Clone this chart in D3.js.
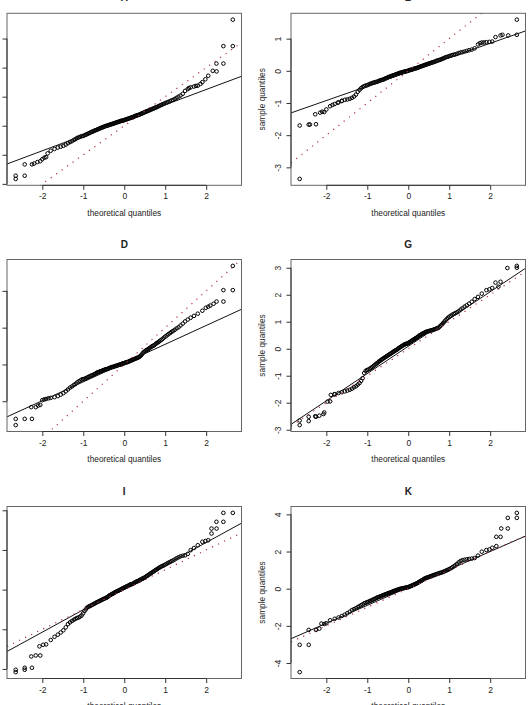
<!DOCTYPE html>
<html>
<head>
<meta charset="utf-8">
<script src="https://cdn.jsdelivr.net/npm/d3@7"></script>
<style>
  body { margin: 0; background: #fff; }
  svg text { font-family: "Liberation Sans", Arial, Helvetica, sans-serif; fill: #222; }
</style>
</head>
<body>
<div id="chart"></div>
<script>
// normal quantiles for ppoints(124), upper half (lower half is the mirror)
var zUpper = [0.010,0.030,0.051,0.071,0.091,0.112,0.132,0.152,0.173,0.193,
  0.214,0.235,0.256,0.277,0.298,0.319,0.340,0.362,0.383,0.405,
  0.427,0.449,0.471,0.494,0.517,0.540,0.563,0.588,0.612,0.637,
  0.662,0.688,0.714,0.740,0.767,0.794,0.822,0.850,0.879,0.910,
  0.940,0.972,1.005,1.040,1.075,1.112,1.150,1.190,1.232,1.277,
  1.324,1.374,1.428,1.486,1.550,1.621,1.702,1.795,1.907,2.050,
  2.253,2.650];
var theoretical = zUpper.slice().reverse().map(d => -d).concat(zUpper);

var xTicks = [-2, -1, 0, 1, 2];

// sorted sample quantiles
var sampleA = [-1.83,-1.33,-1.22,-1.08,-0.86,-0.80,-0.75,-0.72,-0.69,-0.65,
  -0.60,-0.56,-0.53,-0.49,-0.46,-0.42,-0.40,-0.38,-0.36,-0.35,
  -0.33,-0.31,-0.29,-0.27,-0.25,-0.23,-0.21,-0.20,-0.18,-0.16,
  -0.15,-0.13,-0.12,-0.10,-0.09,-0.07,-0.06,-0.05,-0.03,-0.02,
  -0.01,0.00,0.01,0.02,0.03,0.04,0.05,0.06,0.07,0.08,
  0.09,0.10,0.11,0.12,0.13,0.14,0.15,0.16,0.17,0.17,
  0.18,0.19,0.20,0.21,0.22,0.23,0.24,0.25,0.26,0.27,
  0.28,0.29,0.30,0.31,0.33,0.34,0.35,0.36,0.37,0.38,
  0.39,0.41,0.42,0.43,0.45,0.46,0.48,0.49,0.50,0.52,
  0.53,0.55,0.56,0.58,0.59,0.61,0.63,0.64,0.66,0.68,
  0.70,0.72,0.74,0.76,0.78,0.80,0.82,0.84,0.87,0.89,
  0.92,0.96,1.00,1.04,1.10,1.20,1.26,1.32,1.35,1.38,
  1.50,1.72,1.87,3.65];
var extraA = [[-2.65,-1.72],[-2.43,-1.72],[-2.43,-1.33],[-2.2,-1.30],[-2.12,-1.25],[-2.0,-1.15],
  [-1.95,-1.10],[-1.87,-0.95],[1.58,1.30],[1.75,1.37],[1.86,1.44],[1.98,1.60],[2.16,1.89],
  [2.25,2.14],[2.42,2.14],[2.42,2.74],[2.65,2.74]];
var lineA = [0.193, 0.527];
var ticksA = [-2, -1, 0, 1, 2, 3];

var sampleB = [-3.36,-1.66,-1.28,-1.10,-1.03,-0.98,-0.94,-0.90,-0.89,-0.87,
  -0.84,-0.80,-0.74,-0.65,-0.59,-0.54,-0.50,-0.48,-0.46,-0.45,
  -0.43,-0.41,-0.40,-0.38,-0.37,-0.36,-0.35,-0.34,-0.33,-0.31,
  -0.30,-0.29,-0.28,-0.27,-0.26,-0.24,-0.23,-0.22,-0.20,-0.19,
  -0.18,-0.17,-0.16,-0.15,-0.14,-0.13,-0.12,-0.11,-0.10,-0.09,
  -0.08,-0.07,-0.06,-0.06,-0.05,-0.04,-0.03,-0.03,-0.02,-0.01,
  -0.01,0.00,0.01,0.02,0.03,0.03,0.04,0.05,0.06,0.07,
  0.07,0.08,0.09,0.10,0.11,0.12,0.13,0.14,0.15,0.16,
  0.17,0.18,0.19,0.20,0.21,0.22,0.23,0.24,0.25,0.26,
  0.27,0.28,0.29,0.31,0.32,0.33,0.34,0.35,0.37,0.38,
  0.40,0.42,0.43,0.44,0.46,0.47,0.49,0.50,0.51,0.53,
  0.55,0.57,0.58,0.60,0.62,0.64,0.66,0.70,0.82,0.88,
  0.89,0.91,1.10,1.59];
var extraB = [[-2.65,-1.70],[-2.43,-1.67],[-2.40,-1.67],[-2.27,-1.35],[-2.15,-1.30],[-2.1,-1.27],
  [-2.0,-1.2],[-1.85,-1.06],[-1.72,-0.99],[-1.62,-0.93],[1.75,0.86],[1.85,0.88],[1.98,0.90],
  [2.13,1.05],[2.3,1.12],[2.44,1.10],[2.65,1.12]];
var lineB = [-0.034, 0.445];
var ticksB = [-3, -2, -1, 0, 1];

var sampleD = [-1.65,-1.48,-1.10,-0.94,-0.91,-0.89,-0.86,-0.82,-0.78,-0.73,
  -0.68,-0.63,-0.60,-0.56,-0.53,-0.49,-0.46,-0.44,-0.41,-0.40,
  -0.39,-0.38,-0.36,-0.34,-0.33,-0.31,-0.30,-0.29,-0.27,-0.26,
  -0.24,-0.22,-0.21,-0.20,-0.19,-0.18,-0.17,-0.16,-0.15,-0.14,
  -0.13,-0.13,-0.12,-0.11,-0.10,-0.09,-0.08,-0.07,-0.07,-0.06,
  -0.05,-0.04,-0.04,-0.03,-0.02,-0.01,-0.01,0.00,0.01,0.02,
  0.03,0.03,0.04,0.05,0.06,0.06,0.07,0.08,0.09,0.10,
  0.11,0.12,0.13,0.14,0.15,0.16,0.17,0.18,0.19,0.20,
  0.22,0.24,0.27,0.30,0.33,0.35,0.37,0.39,0.40,0.42,
  0.44,0.46,0.48,0.50,0.51,0.53,0.56,0.58,0.60,0.62,
  0.65,0.67,0.70,0.73,0.76,0.79,0.82,0.85,0.88,0.91,
  0.94,0.98,1.01,1.06,1.11,1.17,1.22,1.27,1.32,1.38,
  1.46,1.57,1.71,2.68];
var extraD = [[-2.65,-1.48],[-2.43,-1.48],[-2.27,-1.16],[-2.16,-1.16],[-2.1,-1.12],[-2.0,-0.97],
  [-1.95,-0.95],[-1.85,-0.92],[1.99,1.54],[2.1,1.60],[2.18,1.65],[2.42,1.71],[2.42,2.02],[2.65,2.02]];
var lineD = [0.037, 0.511];
var ticksD = [-1, 0, 1, 2];

var sampleG = [-2.83,-2.52,-2.36,-1.95,-1.69,-1.64,-1.61,-1.58,-1.55,-1.52,
  -1.48,-1.43,-1.39,-1.33,-1.27,-1.19,-1.09,-0.90,-0.82,-0.79,
  -0.77,-0.74,-0.71,-0.68,-0.64,-0.61,-0.57,-0.54,-0.51,-0.47,
  -0.45,-0.41,-0.39,-0.36,-0.34,-0.31,-0.29,-0.27,-0.24,-0.22,
  -0.20,-0.18,-0.16,-0.13,-0.11,-0.09,-0.07,-0.05,-0.03,-0.01,
  0.02,0.04,0.06,0.08,0.10,0.12,0.14,0.16,0.17,0.18,
  0.19,0.20,0.22,0.24,0.26,0.28,0.30,0.32,0.34,0.36,
  0.38,0.40,0.42,0.44,0.47,0.49,0.51,0.53,0.55,0.57,
  0.58,0.60,0.62,0.63,0.64,0.65,0.66,0.67,0.68,0.69,
  0.70,0.72,0.73,0.75,0.76,0.78,0.82,0.86,0.90,0.95,
  1.00,1.05,1.10,1.15,1.19,1.22,1.26,1.29,1.32,1.35,
  1.39,1.45,1.50,1.56,1.61,1.67,1.74,1.84,1.92,2.04,
  2.17,2.25,2.48,3.07];
var extraG = [[-2.65,-2.66],[-2.43,-2.68],[-2.43,-2.52],[-2.27,-2.50],[-2.17,-2.48],[-2.07,-2.42],
  [-1.97,-1.96],[-1.89,-1.71],[-1.80,-1.68],[1.98,2.20],[2.13,2.45],[2.20,2.30],[2.42,2.99],[2.65,3.00]];
var lineG = [0.09, 1.01];
var ticksG = [-3, -2, -1, 0, 1, 2, 3];

var sampleI = [-4.16,-3.94,-3.32,-2.76,-2.54,-2.38,-2.27,-2.16,-2.05,-1.90,
  -1.74,-1.65,-1.58,-1.52,-1.47,-1.43,-1.40,-1.36,-1.30,-1.20,
  -1.08,-1.00,-0.91,-0.87,-0.84,-0.81,-0.78,-0.75,-0.72,-0.69,
  -0.66,-0.63,-0.61,-0.58,-0.56,-0.53,-0.51,-0.48,-0.46,-0.44,
  -0.42,-0.40,-0.37,-0.33,-0.30,-0.27,-0.25,-0.22,-0.20,-0.18,
  -0.15,-0.12,-0.10,-0.08,-0.06,-0.04,-0.02,0.00,0.02,0.05,
  0.07,0.09,0.11,0.13,0.15,0.17,0.19,0.21,0.24,0.26,
  0.27,0.28,0.30,0.33,0.35,0.38,0.40,0.42,0.44,0.46,
  0.49,0.51,0.54,0.56,0.58,0.60,0.64,0.67,0.70,0.74,
  0.77,0.81,0.84,0.88,0.91,0.95,0.99,1.02,1.06,1.10,
  1.14,1.17,1.20,1.23,1.27,1.31,1.35,1.39,1.43,1.47,
  1.52,1.58,1.63,1.68,1.71,1.73,1.80,1.99,2.10,2.24,
  2.41,2.49,3.08,3.87];
var extraI = [[-2.65,-4.04],[-2.43,-4.04],[-2.43,-3.94],[-2.27,-3.37],[-2.16,-3.32],[-2.07,-2.86],
  [-1.98,-2.78],[1.98,2.45],[2.13,2.83],[2.13,3.08],[2.25,3.42],[2.42,3.42],[2.42,3.87]];
var lineI = [0.116, 1.13];
var ticksI = [-4, -2, 0, 2, 4];

var sampleK = [-4.49,-2.22,-1.90,-1.70,-1.62,-1.55,-1.47,-1.40,-1.32,-1.24,
  -1.15,-1.10,-1.05,-0.99,-0.94,-0.89,-0.84,-0.79,-0.76,-0.73,
  -0.70,-0.67,-0.64,-0.61,-0.58,-0.55,-0.52,-0.49,-0.46,-0.44,
  -0.42,-0.40,-0.37,-0.35,-0.33,-0.31,-0.29,-0.27,-0.25,-0.23,
  -0.22,-0.20,-0.18,-0.16,-0.14,-0.12,-0.10,-0.09,-0.07,-0.05,
  -0.04,-0.02,-0.01,0.00,0.01,0.02,0.03,0.04,0.05,0.06,
  0.07,0.08,0.09,0.11,0.13,0.15,0.17,0.19,0.21,0.23,
  0.25,0.27,0.29,0.32,0.35,0.38,0.40,0.43,0.46,0.49,
  0.52,0.55,0.57,0.59,0.61,0.62,0.64,0.66,0.68,0.70,
  0.72,0.74,0.76,0.78,0.80,0.82,0.84,0.86,0.88,0.90,
  0.93,0.96,0.99,1.02,1.06,1.10,1.15,1.20,1.26,1.33,
  1.42,1.49,1.53,1.56,1.58,1.60,1.62,1.65,1.78,1.99,
  2.08,2.20,2.79,4.08];
var extraK = [[-2.65,-3.02],[-2.43,-3.02],[-2.43,-2.22],[-2.17,-2.15],[-2.12,-1.88],[-2.0,-1.86],
  [1.98,2.11],[2.15,2.29],[2.15,2.79],[2.27,3.24],[2.43,3.24],[2.43,3.81],[2.65,3.81]];
var lineK = [0.069, 0.965];
var ticksK = [-4, -2, 0, 2, 4];

var panels = [
  {title: "A", sample: sampleA, extra: extraA, line: lineA, ticks: ticksA},
  {title: "B", sample: sampleB, extra: extraB, line: lineB, ticks: ticksB},
  {title: "D", sample: sampleD, extra: extraD, line: lineD, ticks: ticksD},
  {title: "G", sample: sampleG, extra: extraG, line: lineG, ticks: ticksG},
  {title: "I", sample: sampleI, extra: extraI, line: lineI, ticks: ticksI},
  {title: "K", sample: sampleK, extra: extraK, line: lineK, ticks: ticksK}
];

// layout (the figure is a crop of a larger grid, so some labels fall off the edges)
var svgWidth = 531, svgHeight = 705;
var colX = [7, 291];
var rowY = [13.3, 259.5, 506.5];
var boxW = 234.5, boxH = 172;

var svg = d3.select("#chart").append("svg")
  .attr("width", svgWidth)
  .attr("height", svgHeight);

// R style padded range (4% each side)
function padded(ext) {
  var r = ext[1] - ext[0];
  return [ext[0] - 0.04 * r, ext[1] + 0.04 * r];
}

panels.forEach(function(p, i) {
  var col = i % 2, row = Math.floor(i / 2);
  var g = svg.append("g")
    .attr("transform", `translate(${colX[col]}, ${rowY[row]})`);

  var pts = p.sample.map((v, j) => [theoretical[j], v]).concat(p.extra);

  var x = d3.scaleLinear()
    .domain(padded(d3.extent(pts, d => d[0])))
    .range([0, boxW]);
  var y = d3.scaleLinear()
    .domain(padded(d3.extent(pts, d => d[1])))
    .range([boxH, 0]);

  var clipId = "clip" + i;
  g.append("clipPath").attr("id", clipId)
    .append("rect").attr("width", boxW).attr("height", boxH);

  // points
  g.append("g").selectAll("circle")
    .data(pts)
    .enter()
    .append("circle")
    .attr("cx", d => x(d[0]))
    .attr("cy", d => y(d[1]))
    .attr("r", 1.8)
    .attr("fill", "none")
    .attr("stroke", "#000")
    .attr("stroke-width", 1);

  var xd = x.domain();
  // qqline
  g.append("line")
    .attr("clip-path", `url(#${clipId})`)
    .attr("x1", x(xd[0])).attr("y1", y(p.line[0] + p.line[1] * xd[0]))
    .attr("x2", x(xd[1])).attr("y2", y(p.line[0] + p.line[1] * xd[1]))
    .attr("stroke", "#111")
    .attr("stroke-width", 1);
  // identity line
  g.append("line")
    .attr("clip-path", `url(#${clipId})`)
    .attr("x1", x(xd[0])).attr("y1", y(xd[0]))
    .attr("x2", x(xd[1])).attr("y2", y(xd[1]))
    .attr("stroke", "#b0323f")
    .attr("stroke-width", 1.2)
    .attr("stroke-dasharray", "1.2,5.5");

  // box
  g.append("rect")
    .attr("width", boxW).attr("height", boxH)
    .attr("fill", "none")
    .attr("stroke", "#666")
    .attr("stroke-width", 1);

  // x axis
  var xAxis = g.append("g")
    .attr("transform", `translate(0, ${boxH})`)
    .call(d3.axisBottom(x).tickValues(xTicks).tickSize(4.5).tickPadding(3.5).tickFormat(d => String(d)));
  xAxis.select(".domain").remove();
  xAxis.selectAll("line").attr("stroke", "#333");
  xAxis.selectAll("text").style("font-size", "8.5px").attr("fill", "#222");
  xAxis.append("line")
    .attr("x1", x(xTicks[0])).attr("x2", x(xTicks[xTicks.length - 1]))
    .attr("stroke", "#333");

  // y axis, labels turned like R's las = 0
  var yAxis = g.append("g")
    .call(d3.axisLeft(y).tickValues(p.ticks).tickSize(4.5).tickFormat(d => String(d)));
  yAxis.select(".domain").remove();
  yAxis.selectAll("line").attr("stroke", "#333");
  yAxis.selectAll("text")
    .attr("x", 0).attr("y", -9.7).attr("dy", 0)
    .attr("transform", "rotate(-90)")
    .style("text-anchor", "middle")
    .style("font-size", "8.5px")
    .attr("fill", "#222");
  yAxis.append("line")
    .attr("y1", y(p.ticks[0])).attr("y2", y(p.ticks[p.ticks.length - 1]))
    .attr("stroke", "#333");

  // labels
  g.append("text")
    .attr("x", boxW / 2)
    .attr("y", boxH + 30.5)
    .attr("text-anchor", "middle")
    .style("font-size", "8.3px")
    .text("theoretical quantiles");

  g.append("text")
    .attr("transform", `translate(-26, ${boxH / 2}) rotate(-90)`)
    .attr("text-anchor", "middle")
    .style("font-size", "8.3px")
    .text("sample quantiles");

  g.append("text")
    .attr("x", boxW / 2)
    .attr("y", -12)
    .attr("text-anchor", "middle")
    .style("font-size", "10px")
    .style("font-weight", "bold")
    .text(p.title);
});
</script>
</body>
</html>
